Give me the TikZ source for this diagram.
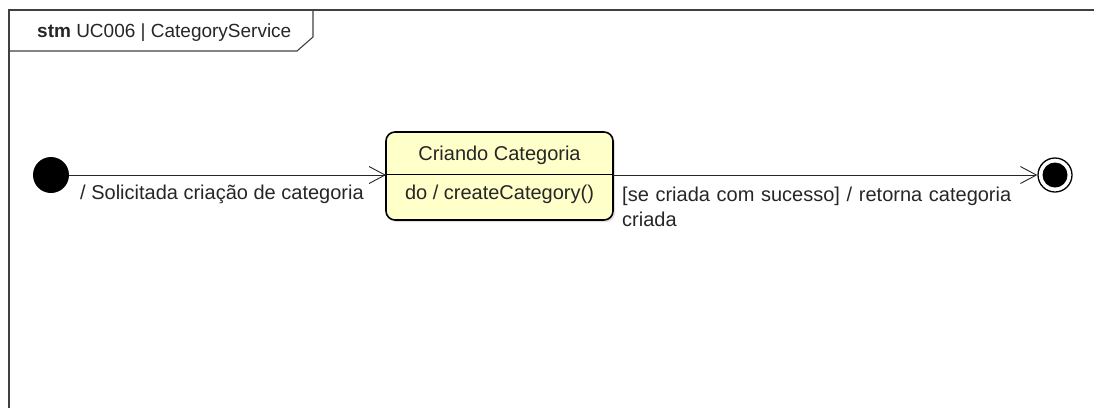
\documentclass[tikz,border=0pt]{standalone}
\usepackage{fontspec}
\setmainfont{Liberation Sans}
\usetikzlibrary{arrows.meta,shadows}
\definecolor{statefill}{HTML}{FFFFCA}
\definecolor{framecol}{HTML}{404040}
\tikzset{
  lbl/.style={font=\fontsize{20}{24}\selectfont, text=black!85, inner sep=0pt},
  trans/.style={draw=black!85, line width=0.9pt, -{Straight Barb[length=16pt,width=17pt,line width=0.9pt]}},
  statebox/.style={draw=black, line width=1.6pt, fill=statefill, rounded corners=9pt,
    drop shadow={shadow xshift=2pt,shadow yshift=-2pt,opacity=0.25}}
}
\begin{document}
\begin{tikzpicture}[x=1pt,y=-1pt]
\useasboundingbox (0,0) rectangle (1094,408);
% frame
\draw[framecol, line width=1.5pt] (1094,10) -- (9,10) -- (9,408);
\draw[framecol, line width=1.1pt] (9,51) -- (297,51) -- (313,37) -- (313,10);
\node[lbl, font=\fontsize{19}{23}\selectfont, anchor=west] (title) at (37,33) {\textbf{stm} UC006 | CategoryService};
% initial
\node[circle, fill=black, minimum size=36pt, inner sep=0pt] (init) at (51,175) {};
% state
\path[statebox] (386,132) rectangle (613,220);
\coordinate (stL) at (386,175);
\coordinate (stR) at (613,175);
\draw[black, line width=0.9pt] (386,174) -- (613,174);
\node[lbl] (sname) at (499.5,155) {Criando Categoria};
\node[lbl] (sdo) at (499.5,194) {do / createCategory()};
% final
\node[circle, draw=black, line width=1.3pt, minimum size=34pt, inner sep=0pt] (fin) at (1055,175) {};
\fill[black] (fin.center) circle (12.5pt);
% transitions
\draw[trans] (init.east) -- (stL);
\draw[trans] (stR) -- (fin.west);
\node[lbl, anchor=west] (t1) at (80,194) {/ Solicitada criação de categoria};
\node[lbl, font=\fontsize{20}{24.5}\selectfont, anchor=north west, align=left, text width=400pt] (t2) at (622,187) {[se criada com sucesso] / retorna categoria\\criada};
\end{tikzpicture}
\end{document}
